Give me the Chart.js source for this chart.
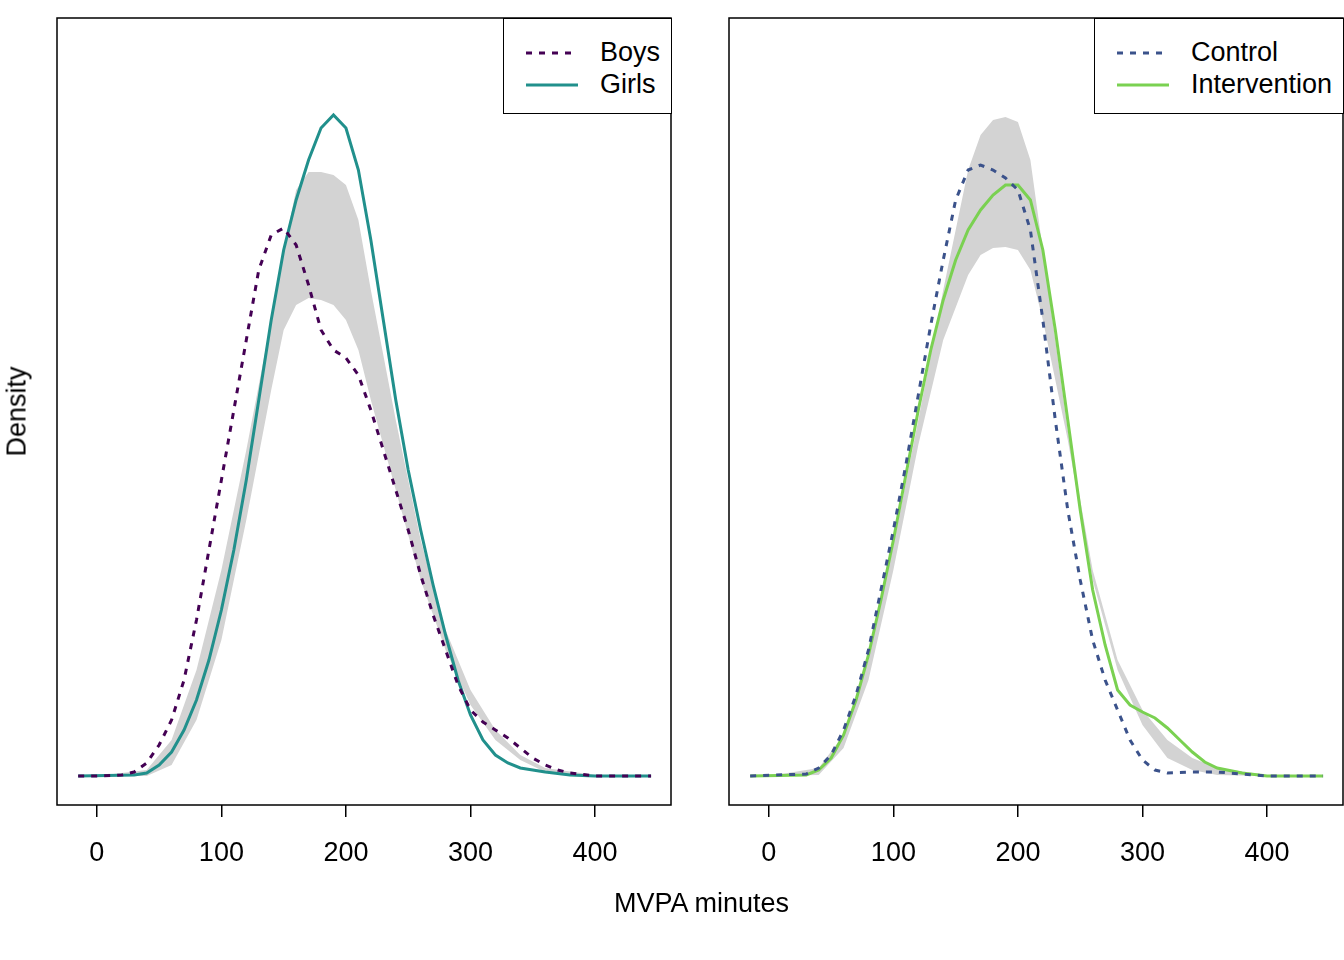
<!DOCTYPE html>
<html><head><meta charset="utf-8">
<script src="https://cdn.jsdelivr.net/npm/chart.js@4"></script>
<style>
body{margin:0;width:1344px;height:960px;background:#fff;font-family:"Liberation Sans",Arial,sans-serif;position:relative;overflow:hidden}
canvas{position:absolute;top:0}
.lbl{position:absolute;font-size:27px;color:#000;white-space:nowrap}
.leg{position:absolute;top:18px;height:96px;border:1px solid #000;background:#fff;box-sizing:border-box}
.leg div{position:absolute;font-size:27px;left:96px}
.leg svg{position:absolute;left:0;top:0}
</style></head><body>
<canvas id="c1" width="672" height="960" style="left:0"></canvas>
<canvas id="c2" width="672" height="960" style="left:672px"></canvas>
<div class="lbl" style="left:614px;top:888px">MVPA minutes</div>
<div class="lbl" style="left:-28px;top:396px;transform:rotate(-90deg)">Density</div>
<div class="leg" style="left:503px;width:169px">
  <svg width="169" height="96"><line x1="22" y1="34" x2="74" y2="34" stroke="#440154" stroke-width="3" stroke-dasharray="6,7"/><line x1="22" y1="66" x2="74" y2="66" stroke="#21908C" stroke-width="3"/></svg>
  <div style="top:18px">Boys</div><div style="top:50px">Girls</div>
</div>
<div class="leg" style="left:1094px;width:250px">
  <svg width="250" height="96"><line x1="22" y1="34" x2="74" y2="34" stroke="#3B528B" stroke-width="3" stroke-dasharray="6,7"/><line x1="22" y1="66" x2="74" y2="66" stroke="#7AD151" stroke-width="3"/></svg>
  <div style="top:18px">Control</div><div style="top:50px">Intervention</div>
</div>
<script>
// readings: [MVPA minutes, curve height above baseline (relative density)]
const boys = [[-15,0],[0,0],[20,1],[30,4],[40,13],[50,31],[60,56],[70,96],[80,156],[90,226],[100,296],[110,366],[120,436],[130,506],[140,541],[150,548],[160,531],[170,491],[180,446],[190,426],[200,418],[210,401],[220,366],[230,326],[240,286],[250,246],[260,201],[270,161],[280,126],[290,91],[300,66],[310,54],[320,46],[330,38],[340,28],[350,18],[360,11],[370,6],[380,3],[400,0],[445,0]];
const girls = [[-15,0],[30,1],[40,3],[50,11],[60,24],[70,46],[80,76],[90,116],[100,166],[110,226],[120,296],[130,376],[140,456],[150,526],[160,576],[170,616],[180,648],[190,661],[200,648],[210,606],[220,536],[230,456],[240,376],[250,306],[260,246],[270,191],[280,141],[290,96],[300,61],[310,36],[320,21],[330,13],[340,8],[360,4],[380,1],[400,0],[445,0]];
const bandLeftHi = [[0,0],[40,6],[60,36],[80,106],[100,206],[120,326],[140,456],[150,526],[160,586],[170,604],[180,604],[190,601],[200,591],[210,556],[220,486],[240,356],[260,236],[280,146],[300,86],[320,46],[340,21],[360,8],[400,1],[440,0]];
const bandLeftLo = [[0,0],[40,0],[60,11],[80,56],[100,136],[120,256],[140,386],[150,446],[160,471],[170,478],[180,476],[190,471],[200,456],[210,426],[220,376],[240,286],[260,196],[280,126],[300,71],[320,36],[340,16],[360,4],[400,0],[440,0]];
const control = [[-15,0],[30,2],[40,8],[50,21],[60,46],[70,81],[80,126],[90,186],[100,246],[110,311],[120,381],[130,451],[140,516],[150,576],[160,606],[170,611],[180,606],[190,598],[200,586],[210,546],[220,456],[230,356],[240,266],[250,196],[260,136],[270,96],[280,66],[290,36],[300,16],[310,6],[320,3],[340,4],[360,4],[380,2],[400,0],[445,0]];
const intervention = [[-15,0],[30,1],[40,6],[50,18],[60,41],[70,76],[80,121],[90,176],[100,236],[110,301],[120,366],[130,426],[140,476],[150,516],[160,546],[170,566],[180,581],[190,591],[200,591],[210,576],[220,526],[230,446],[240,356],[250,266],[260,186],[270,131],[280,86],[290,71],[300,64],[310,58],[320,48],[330,36],[340,24],[350,14],[360,8],[380,3],[400,0],[445,0]];
const bandRightHi = [[0,0],[40,8],[60,41],[80,116],[100,231],[120,356],[140,486],[160,606],[170,641],[180,656],[190,659],[200,654],[210,616],[220,526],[240,346],[260,206],[280,116],[300,66],[320,36],[340,18],[360,8],[400,1],[440,0]];
const bandRightLo = [[0,0],[40,1],[60,28],[80,96],[100,206],[120,331],[140,436],[160,501],[170,521],[180,528],[190,529],[200,526],[210,506],[220,456],[240,336],[260,196],[280,106],[300,51],[320,18],[340,6],[360,1],[400,0],[440,0]];
const xTicks = [0, 100, 200, 300, 400];

const pts = a => a.map(p => ({x: p[0], y: p[1]}));
const boxPlugin = {
  id: "box",
  afterDraw(chart) {
    const a = chart.chartArea, c = chart.ctx;
    c.save(); c.strokeStyle = "#000"; c.lineWidth = 1.5;
    c.strokeRect(a.left, a.top, a.right - a.left, a.bottom - a.top);
    c.restore();
  }
};

function makeChart(id, hi, lo, s1, c1, s2, c2) {
  new Chart(document.getElementById(id), {
    type: "scatter",
    data: {
      datasets: [
        {data: pts(s1), order: 1, showLine: true, pointRadius: 0, borderWidth: 3, borderColor: c1, borderDash: [6, 7], fill: false},
        {data: pts(s2), order: 1, showLine: true, pointRadius: 0, borderWidth: 3, borderColor: c2, fill: false},
        {data: pts(hi), order: 2, showLine: true, pointRadius: 0, borderWidth: 0, backgroundColor: "#d3d3d3", fill: "+1"},
        {data: pts(lo), order: 2, showLine: true, pointRadius: 0, borderWidth: 0, backgroundColor: "#d3d3d3", fill: false}
      ]
    },
    options: {
      responsive: false, animation: false, events: [],
      layout: {padding: {left: 57, top: 18, right: 1, bottom: 0}},
      plugins: {legend: {display: false}, tooltip: {enabled: false}, filler: {drawTime: "beforeDatasetsDraw"}},
      scales: {
        x: {
          type: "linear", min: -32, max: 461,
          afterBuildTicks: s => { s.ticks = xTicks.map(v => ({value: v})); },
          afterFit: s => { s.height = 155; },
          border: {display: false},
          grid: {drawOnChartArea: false, tickLength: 12, color: "#000", lineWidth: 1.5},
          ticks: {color: "#000", font: {size: 27, family: "Liberation Sans"}, padding: 20, maxRotation: 0}
        },
        y: {display: false, min: -29, max: 758}
      }
    },
    plugins: [boxPlugin]
  });
}
makeChart("c1", bandLeftHi, bandLeftLo, boys, "#440154", girls, "#21908C");
makeChart("c2", bandRightHi, bandRightLo, control, "#3B528B", intervention, "#7AD151");
</script>
</body></html>
